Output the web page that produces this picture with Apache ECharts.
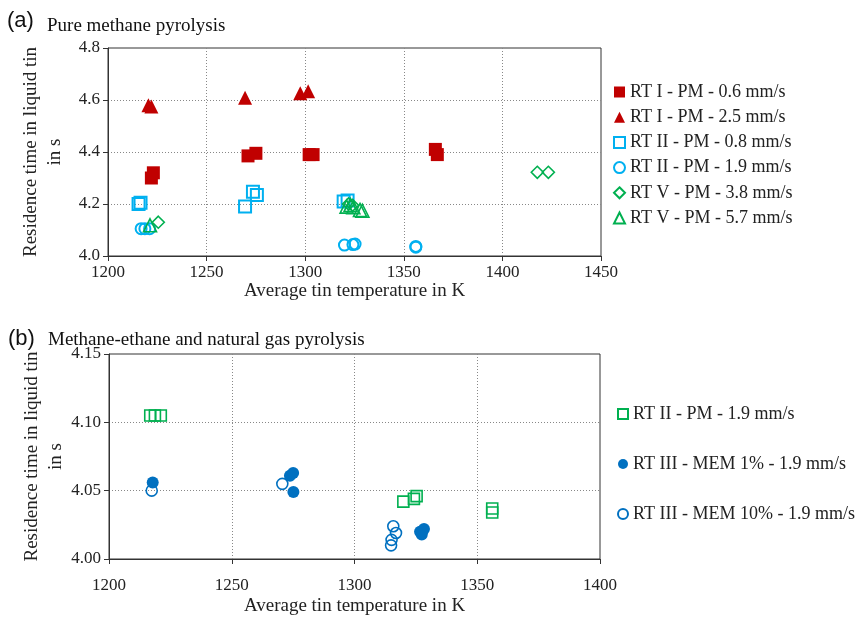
<!DOCTYPE html>
<html>
<head>
<meta charset="utf-8">
<script src="https://cdn.jsdelivr.net/npm/echarts@6/dist/echarts.min.js"></script>
<style>
  html, body { margin: 0; padding: 0; background: #fff; }
  #chart { width: 858px; height: 618px; }
</style>
</head>
<body>
<div id="chart"></div>
<script>
// (a) pure methane pyrolysis -- [temperature K, residence time s]
const rt1pm06 = [[1222, 4.30], [1223, 4.32], [1271, 4.385], [1275, 4.395], [1302, 4.39], [1304, 4.39], [1366, 4.41], [1367, 4.39]]
const rt1pm25 = [[1220.5, 4.58], [1222, 4.575], [1269.5, 4.609], [1297.5, 4.626], [1301.5, 4.634]]
const rt2pm08 = [[1215.5, 4.20], [1216.5, 4.205], [1269.5, 4.19], [1273.5, 4.247], [1275.5, 4.235], [1319.5, 4.21], [1321.5, 4.213]]
const rt2pm19 = [[1216.8, 4.105], [1218.7, 4.105], [1221.1, 4.105], [1319.9, 4.042], [1324.2, 4.044], [1325.3, 4.046], [1356.1, 4.037], [1356.1, 4.034]]
const rt5pm38 = [[1225.5, 4.13], [1322, 4.20], [1324, 4.195], [1417.7, 4.322], [1423.3, 4.322]]
const rt5pm57 = [[1221.3, 4.118], [1321, 4.19], [1323, 4.196], [1324.4, 4.188], [1327.8, 4.177], [1329, 4.174]]

// (b) methane-ethane and natural gas pyrolysis
const rt3mem1 = [[1217.8, 4.056], [1273.7, 4.061], [1275, 4.063], [1275.1, 4.049], [1326.7, 4.020], [1328.3, 4.022], [1327.4, 4.018]]
const rt3mem10 = [[1217.4, 4.050], [1270.6, 4.055], [1315.8, 4.024], [1316.9, 4.019], [1315.1, 4.014], [1314.9, 4.010]]

const legendA = ['RT I - PM - 0.6 mm/s', 'RT I - PM - 2.5 mm/s', 'RT II - PM - 0.8 mm/s', 'RT II - PM - 1.9 mm/s', 'RT V - PM - 3.8 mm/s', 'RT V - PM - 5.7 mm/s']
// trailing space keeps the second "RT II" entry separate from the one in (a)
const legendB = ['RT II - PM - 1.9 mm/s ', 'RT III - MEM 1% - 1.9 mm/s', 'RT III - MEM 10% - 1.9 mm/s']

const xTitle = 'Average tin temperature in K'
const yTitle = 'Residence time in liquid tin\nin s'

const RED = '#c00000', CYAN = '#00b0f0', GREEN = '#00b050', BLUE = '#0070c0'
const SERIF = 'Liberation Serif'

const myChart = echarts.init(document.getElementById('chart'))

function xAxis(gridIndex, max, labelMargin, nameGap) {
  return {
    type: 'value', gridIndex: gridIndex, min: 1200, max: max, interval: 50,
    name: xTitle, nameLocation: 'middle', nameGap: nameGap, nameMoveOverlap: false,
    nameTextStyle: {fontFamily: SERIF, fontSize: 19, color: '#222'},
    axisLine: {show: true, onZero: false, lineStyle: {color: '#333'}},
    axisTick: {show: true, inside: false, length: 5, lineStyle: {color: '#333'}},
    axisLabel: {fontFamily: SERIF, fontSize: 17, color: '#222', margin: labelMargin, formatter: v => String(v)},
    splitLine: {show: true, showMinLine: false, showMaxLine: false, lineStyle: {color: '#888', type: [1, 2], width: 1}}
  }
}

function yAxis(gridIndex, min, max, interval, digits) {
  return {
    type: 'value', gridIndex: gridIndex, min: min, max: max, interval: interval,
    name: yTitle, nameLocation: 'middle', nameGap: 41, nameRotate: 90, nameMoveOverlap: false,
    nameTextStyle: {fontFamily: SERIF, fontSize: 19, color: '#222', lineHeight: 24},
    axisLine: {show: true, onZero: false, lineStyle: {color: '#333'}},
    axisTick: {show: true, inside: false, length: 5, lineStyle: {color: '#333'}},
    axisLabel: {fontFamily: SERIF, fontSize: 17, color: '#222', margin: 8, formatter: v => v.toFixed(digits)},
    splitLine: {show: true, showMinLine: false, showMaxLine: false, lineStyle: {color: '#888', type: [1, 2], width: 1}}
  }
}

function scatter(name, data, idx, symbol, size, color, open, bw) {
  return {
    name: name, type: 'scatter', xAxisIndex: idx, yAxisIndex: idx,
    symbol: symbol, symbolSize: size, data: data,
    itemStyle: open
      ? {color: 'transparent', borderColor: color, borderWidth: bw, opacity: 1}
      : {color: color, opacity: 1},
    emphasis: {disabled: true}
  }
}

const option = {
  animation: false,
  title: [
    {text: '(a)', left: 7, top: 10, padding: 0, textStyle: {fontFamily: 'Liberation Sans', fontSize: 22, fontWeight: 'normal', color: '#111'}},
    {text: 'Pure methane pyrolysis', left: 47, top: 17, padding: 0, textStyle: {fontFamily: SERIF, fontSize: 19, fontWeight: 'normal', color: '#111'}},
    {text: '(b)', left: 8, top: 328, padding: 0, textStyle: {fontFamily: 'Liberation Sans', fontSize: 22, fontWeight: 'normal', color: '#111'}},
    {text: 'Methane-ethane and natural gas pyrolysis', left: 48, top: 331, padding: 0, textStyle: {fontFamily: SERIF, fontSize: 19, fontWeight: 'normal', color: '#111'}}
  ],
  grid: [
    {left: 108, top: 48, width: 493, height: 208, show: true, borderColor: '#333', borderWidth: 1, backgroundColor: 'transparent'},
    {left: 109, top: 354, width: 491, height: 205, show: true, borderColor: '#333', borderWidth: 1, backgroundColor: 'transparent'}
  ],
  xAxis: [xAxis(0, 1450, 8, 26), xAxis(1, 1400, 18, 38)],
  yAxis: [yAxis(0, 4.0, 4.8, 0.2, 1), yAxis(1, 4.0, 4.15, 0.05, 2)],
  legend: [
    {
      data: legendA, orient: 'vertical', left: 613, top: 83, padding: 0,
      itemWidth: 11, itemHeight: 11, itemGap: 7.2, selectedMode: false,
      textStyle: {fontFamily: SERIF, fontSize: 18, color: '#222', lineHeight: 18}
    },
    {
      data: legendB, orient: 'vertical', left: 617, top: 405, padding: 0,
      itemWidth: 10, itemHeight: 10, itemGap: 32, selectedMode: false,
      textStyle: {fontFamily: SERIF, fontSize: 18, color: '#222', lineHeight: 18}
    }
  ],
  series: [
    scatter(legendA[0], rt1pm06, 0, 'rect', 13, RED, false),
    scatter(legendA[1], rt1pm25, 0, 'triangle', 14, RED, false),
    scatter(legendA[2], rt2pm08, 0, 'rect', 12, CYAN, true, 2),
    scatter(legendA[3], rt2pm19, 0, 'circle', 11, CYAN, true, 2),
    scatter(legendA[4], rt5pm38, 0, 'diamond', 12, GREEN, true, 1.6),
    scatter(legendA[5], rt5pm57, 0, 'triangle', 13, GREEN, true, 1.6),
    scatter(legendB[0], rt2pm19, 1, 'rect', 11, GREEN, true, 1.6),
    scatter(legendB[1], rt3mem1, 1, 'circle', 12, BLUE, false),
    scatter(legendB[2], rt3mem10, 1, 'circle', 11, BLUE, true, 1.6)
  ]
}
myChart.setOption(option)
</script>
</body>
</html>
